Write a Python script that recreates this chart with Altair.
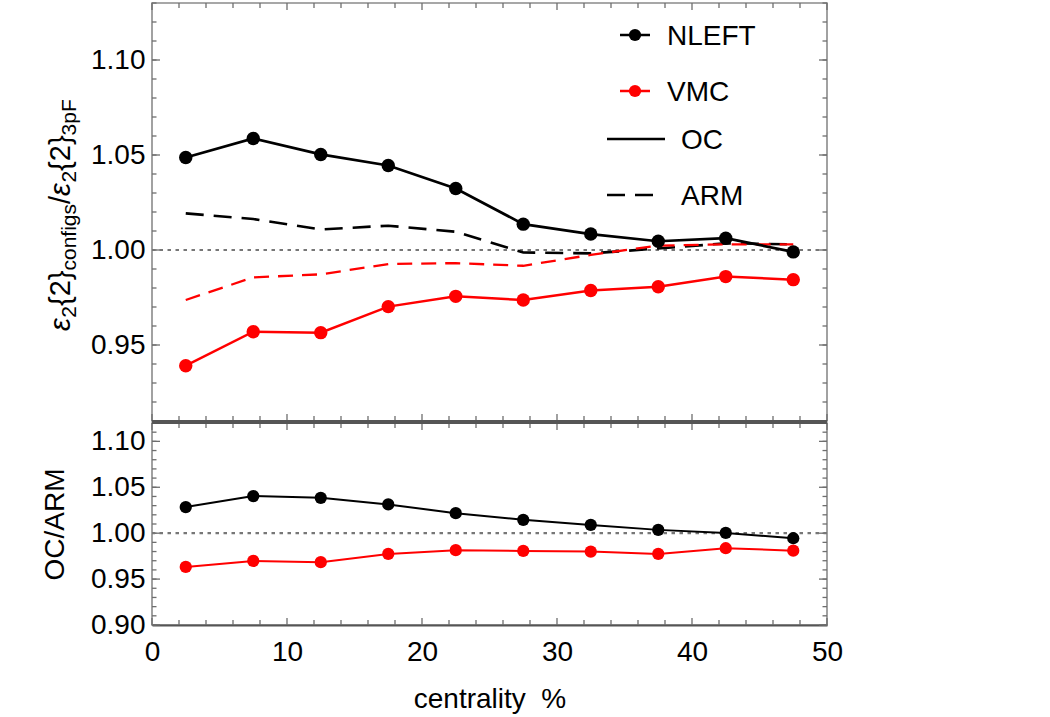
import altair as alt
import pandas as pd

# ---- data -------------------------------------------------------------
centrality = [2.5, 7.5, 12.5, 17.5, 22.5, 27.5, 32.5, 37.5, 42.5, 47.5]

# eps2{2}_configs / eps2{2}_3pF
nleft_oc = [1.0487, 1.0587, 1.0503, 1.0445, 1.0324, 1.0136, 1.0084, 1.0046, 1.0062, 0.9990]
nleft_arm = [1.0193, 1.0163, 1.0108, 1.0128, 1.0096, 0.9987, 0.9982, 1.0008, 1.0035, 1.0030]
vmc_oc = [0.9391, 0.9570, 0.9565, 0.9702, 0.9756, 0.9737, 0.9787, 0.9807, 0.9860, 0.9844]
vmc_arm = [0.9737, 0.9856, 0.9872, 0.9926, 0.9931, 0.9917, 0.9974, 1.0023, 1.0030, 1.0030]

# OC / ARM
nleft_ratio = [1.0284, 1.0404, 1.0385, 1.0313, 1.0218, 1.0145, 1.0090, 1.0036, 1.0003, 0.9945]
vmc_ratio = [0.9633, 0.9698, 0.9684, 0.9774, 0.9815, 0.9807, 0.9800, 0.9774, 0.9836, 0.9810]

reference_level = [1.0]

legend_labels = ["NLEFT", "VMC", "OC", "ARM"]

x_major = [0, 10, 20, 30, 40, 50]
x_minor = [2, 4, 6, 8, 12, 14, 16, 18, 22, 24, 26, 28, 32, 34, 36, 38, 42, 44, 46, 48]
top_y_labels = [0.95, 1.00, 1.05, 1.10]
top_y_minor = [round(0.91 + 0.01 * i, 2) for i in range(23)]
bot_y_labels = [0.90, 0.95, 1.00, 1.05, 1.10]
bot_y_minor = [round(0.90 + 0.01 * i, 2) for i in range(23)]

# ---- style ------------------------------------------------------------
W = 675
H_TOP = 418
H_BOT = 202
FONT = "Liberation Sans"
FS = 28
TICK_COLOR = "#6e6e6e"
EDGE_DARK = "#555555"
RED = "#ff0000"
BLACK = "#000000"

x_scale = alt.Scale(domain=[0, 50], nice=False, zero=False)
top_scale = alt.Scale(domain=[0.91, 1.13], nice=False, zero=False)
bot_scale = alt.Scale(domain=[0.90, 1.12], nice=False, zero=False)

top_y_axis = alt.Axis(values=top_y_labels, format=".2f", ticks=False, domain=False,
                      grid=False, labelFontSize=FS, labelPadding=7,
                      labelColor="black", title=None)
bot_y_axis = alt.Axis(values=bot_y_labels, format=".2f", ticks=False, domain=False,
                      grid=False, labelFontSize=FS, labelPadding=7, labelColor="black",
                      title="OC/ARM", titleFontSize=28, titleFontWeight="normal",
                      titlePadding=21, titleColor="black")
bot_x_axis = alt.Axis(values=x_major, format="d", ticks=False, domain=True,
                      domainColor=EDGE_DARK, domainWidth=2.2, grid=False,
                      labelFontSize=FS, labelPadding=13, labelColor="black",
                      labelFlush=False, title="centrality\u00a0 %",
                      titleFontSize=FS, titleFontWeight="normal",
                      titlePadding=19, titleColor="black")


def series(values, scale, y_axis, x_axis, color, width, dash=None, size=None):
    frame = pd.DataFrame({"centrality": centrality, "value": values})
    kw = dict(color=color, strokeWidth=width)
    if dash is not None:
        kw["strokeDash"] = dash
    if size is not None:
        kw["point"] = alt.OverlayMarkDef(filled=True, size=size, color=color, opacity=1)
    return alt.Chart(frame).mark_line(**kw).encode(
        x=alt.X("centrality:Q", scale=x_scale, axis=x_axis),
        y=alt.Y("value:Q", scale=scale, axis=y_axis),
    )


def reference_rule(scale, y_axis):
    frame = pd.DataFrame({"value": reference_level})
    return alt.Chart(frame).mark_rule(color="#777777", strokeWidth=2.2, strokeDash=[3.5, 4.5]).encode(
        y=alt.Y("value:Q", scale=scale, axis=y_axis)
    )


def edge_ticks(values, side, length, scale, axis, h):
    frame = pd.DataFrame({"t": values})
    base = alt.Chart(frame).mark_rule(color=TICK_COLOR, strokeWidth=1.3)
    if side in ("left", "right"):
        x0 = 0 if side == "left" else W
        x1 = length if side == "left" else W - length
        return base.encode(y=alt.Y("t:Q", scale=scale, axis=axis),
                           x=alt.value(x0), x2=alt.value(x1))
    y0 = 0 if side == "top" else h
    y1 = length if side == "top" else h - length
    return base.encode(x=alt.X("t:Q", scale=x_scale, axis=axis),
                       y=alt.value(y0), y2=alt.value(y1))


def all_ticks(y_minor, y_major, scale, y_axis, x_axis, h):
    layers = []
    for side in ("left", "right"):
        layers.append(edge_ticks(y_minor, side, 4.5, scale, y_axis, h))
        layers.append(edge_ticks(y_major, side, 8, scale, y_axis, h))
    for side in ("top", "bottom"):
        layers.append(edge_ticks(x_minor, side, 5, scale, x_axis, h))
        layers.append(edge_ticks(x_major, side, 7, scale, x_axis, h))
    return layers


def edge_line(y_px):
    frame = pd.DataFrame({"e": [0]})
    return alt.Chart(frame).mark_rule(color=EDGE_DARK, strokeWidth=2.2).encode(
        x=alt.value(0), x2=alt.value(W), y=alt.value(y_px)
    )


def text_at(label, x, y, size, **kw):
    frame = pd.DataFrame({"label": [label]})
    return alt.Chart(frame).mark_text(font=FONT, fontSize=size, color="black",
                                      align="left", baseline="alphabetic", **kw).encode(
        text="label:N", x=alt.value(x), y=alt.value(y)
    )


def legend_rule(x0, x1, y, color, dash=None):
    frame = pd.DataFrame({"e": [0]})
    kw = dict(color=color, strokeWidth=2.5)
    if dash is not None:
        kw["strokeDash"] = dash
    return alt.Chart(frame).mark_rule(**kw).encode(
        x=alt.value(x0), x2=alt.value(x1), y=alt.value(y)
    )


def legend_dot(x, y, color):
    frame = pd.DataFrame({"e": [0]})
    return alt.Chart(frame).mark_point(filled=True, size=150, color=color, opacity=1).encode(
        x=alt.value(x), y=alt.value(y)
    )


# ---- legend (inside the upper panel) ----------------------------------
legend_layers = [
    legend_rule(468, 498, 32, BLACK), legend_dot(483, 32, BLACK),
    text_at(legend_labels[0], 515, 42, FS),
    legend_rule(468, 498, 88, RED), legend_dot(483, 88, RED),
    text_at(legend_labels[1], 515, 98, FS),
    legend_rule(455, 513, 136, BLACK),
    text_at(legend_labels[2], 529, 146, FS),
    legend_rule(455, 502, 192, BLACK, dash=[18, 10]),
    text_at(legend_labels[3], 529, 202, FS),
]

# ---- rotated y title with subscripts ----------------------------------
ADVANCE = {"ε": 0.46, "2": 0.556, "3": 0.556, "{": 0.334, "}": 0.334, "/": 0.278,
           "c": 0.5, "o": 0.556, "n": 0.556, "f": 0.278, "i": 0.222, "g": 0.556,
           "s": 0.5, "p": 0.556, "F": 0.611}
title_parts = [("ε", False, True), ("2", True, False), ("{2}", False, False),
               ("configs", True, False), ("/", False, False), ("ε", False, True),
               ("2", True, False), ("{2}", False, False), ("3pF", True, False)]
MAIN_FS, SUB_FS = 29, 21
title_layers = []
cursor = 328.0
for text, is_sub, italic in title_parts:
    fs = SUB_FS if is_sub else MAIN_FS
    x = -82 + (6 if is_sub else 0)
    kw = dict(angle=270)
    if italic:
        kw["fontStyle"] = "italic"
    title_layers.append(text_at(text, x, cursor, fs, **kw))
    cursor -= sum(ADVANCE[c] for c in text) * fs

# keeps the plot origin at a fixed offset from the page corner
anchor = alt.Chart(pd.DataFrame({"e": [0]})).mark_point(opacity=0, size=1).encode(
    x=alt.value(-150), y=alt.value(-1)
)

# ---- upper panel --------------------------------------------------------
top_layers = (
    all_ticks(top_y_minor, top_y_labels, top_scale, top_y_axis, None, H_TOP)
    + [
        reference_rule(top_scale, top_y_axis),
        series(nleft_arm, top_scale, top_y_axis, None, BLACK, 2.6, dash=[18, 10]),
        series(vmc_arm, top_scale, top_y_axis, None, RED, 2.3, dash=[15, 9]),
        series(vmc_oc, top_scale, top_y_axis, None, RED, 2.5, size=180),
        series(nleft_oc, top_scale, top_y_axis, None, BLACK, 2.7, size=180),
        edge_line(H_TOP),
    ]
    + legend_layers + title_layers + [anchor]
)
top = alt.layer(*top_layers).properties(width=W, height=H_TOP)

# ---- lower panel --------------------------------------------------------
bot_layers = (
    all_ticks(bot_y_minor, bot_y_labels, bot_scale, bot_y_axis, bot_x_axis, H_BOT)
    + [
        reference_rule(bot_scale, bot_y_axis),
        series(vmc_ratio, bot_scale, bot_y_axis, bot_x_axis, RED, 2.0, size=150),
        series(nleft_ratio, bot_scale, bot_y_axis, bot_x_axis, BLACK, 2.0, size=150),
        edge_line(0),
    ]
)
bottom = alt.layer(*bot_layers).properties(width=W, height=H_BOT)

chart = alt.vconcat(top, bottom, spacing=-6).properties(
    padding={"left": 0, "top": 0, "right": 5, "bottom": 5}
).configure(
    font=FONT,
    view=alt.ViewConfig(stroke="#8a8a8a", strokeWidth=1.6),
)

chart.save("out.html", embed_options={"renderer": "svg", "actions": False})
